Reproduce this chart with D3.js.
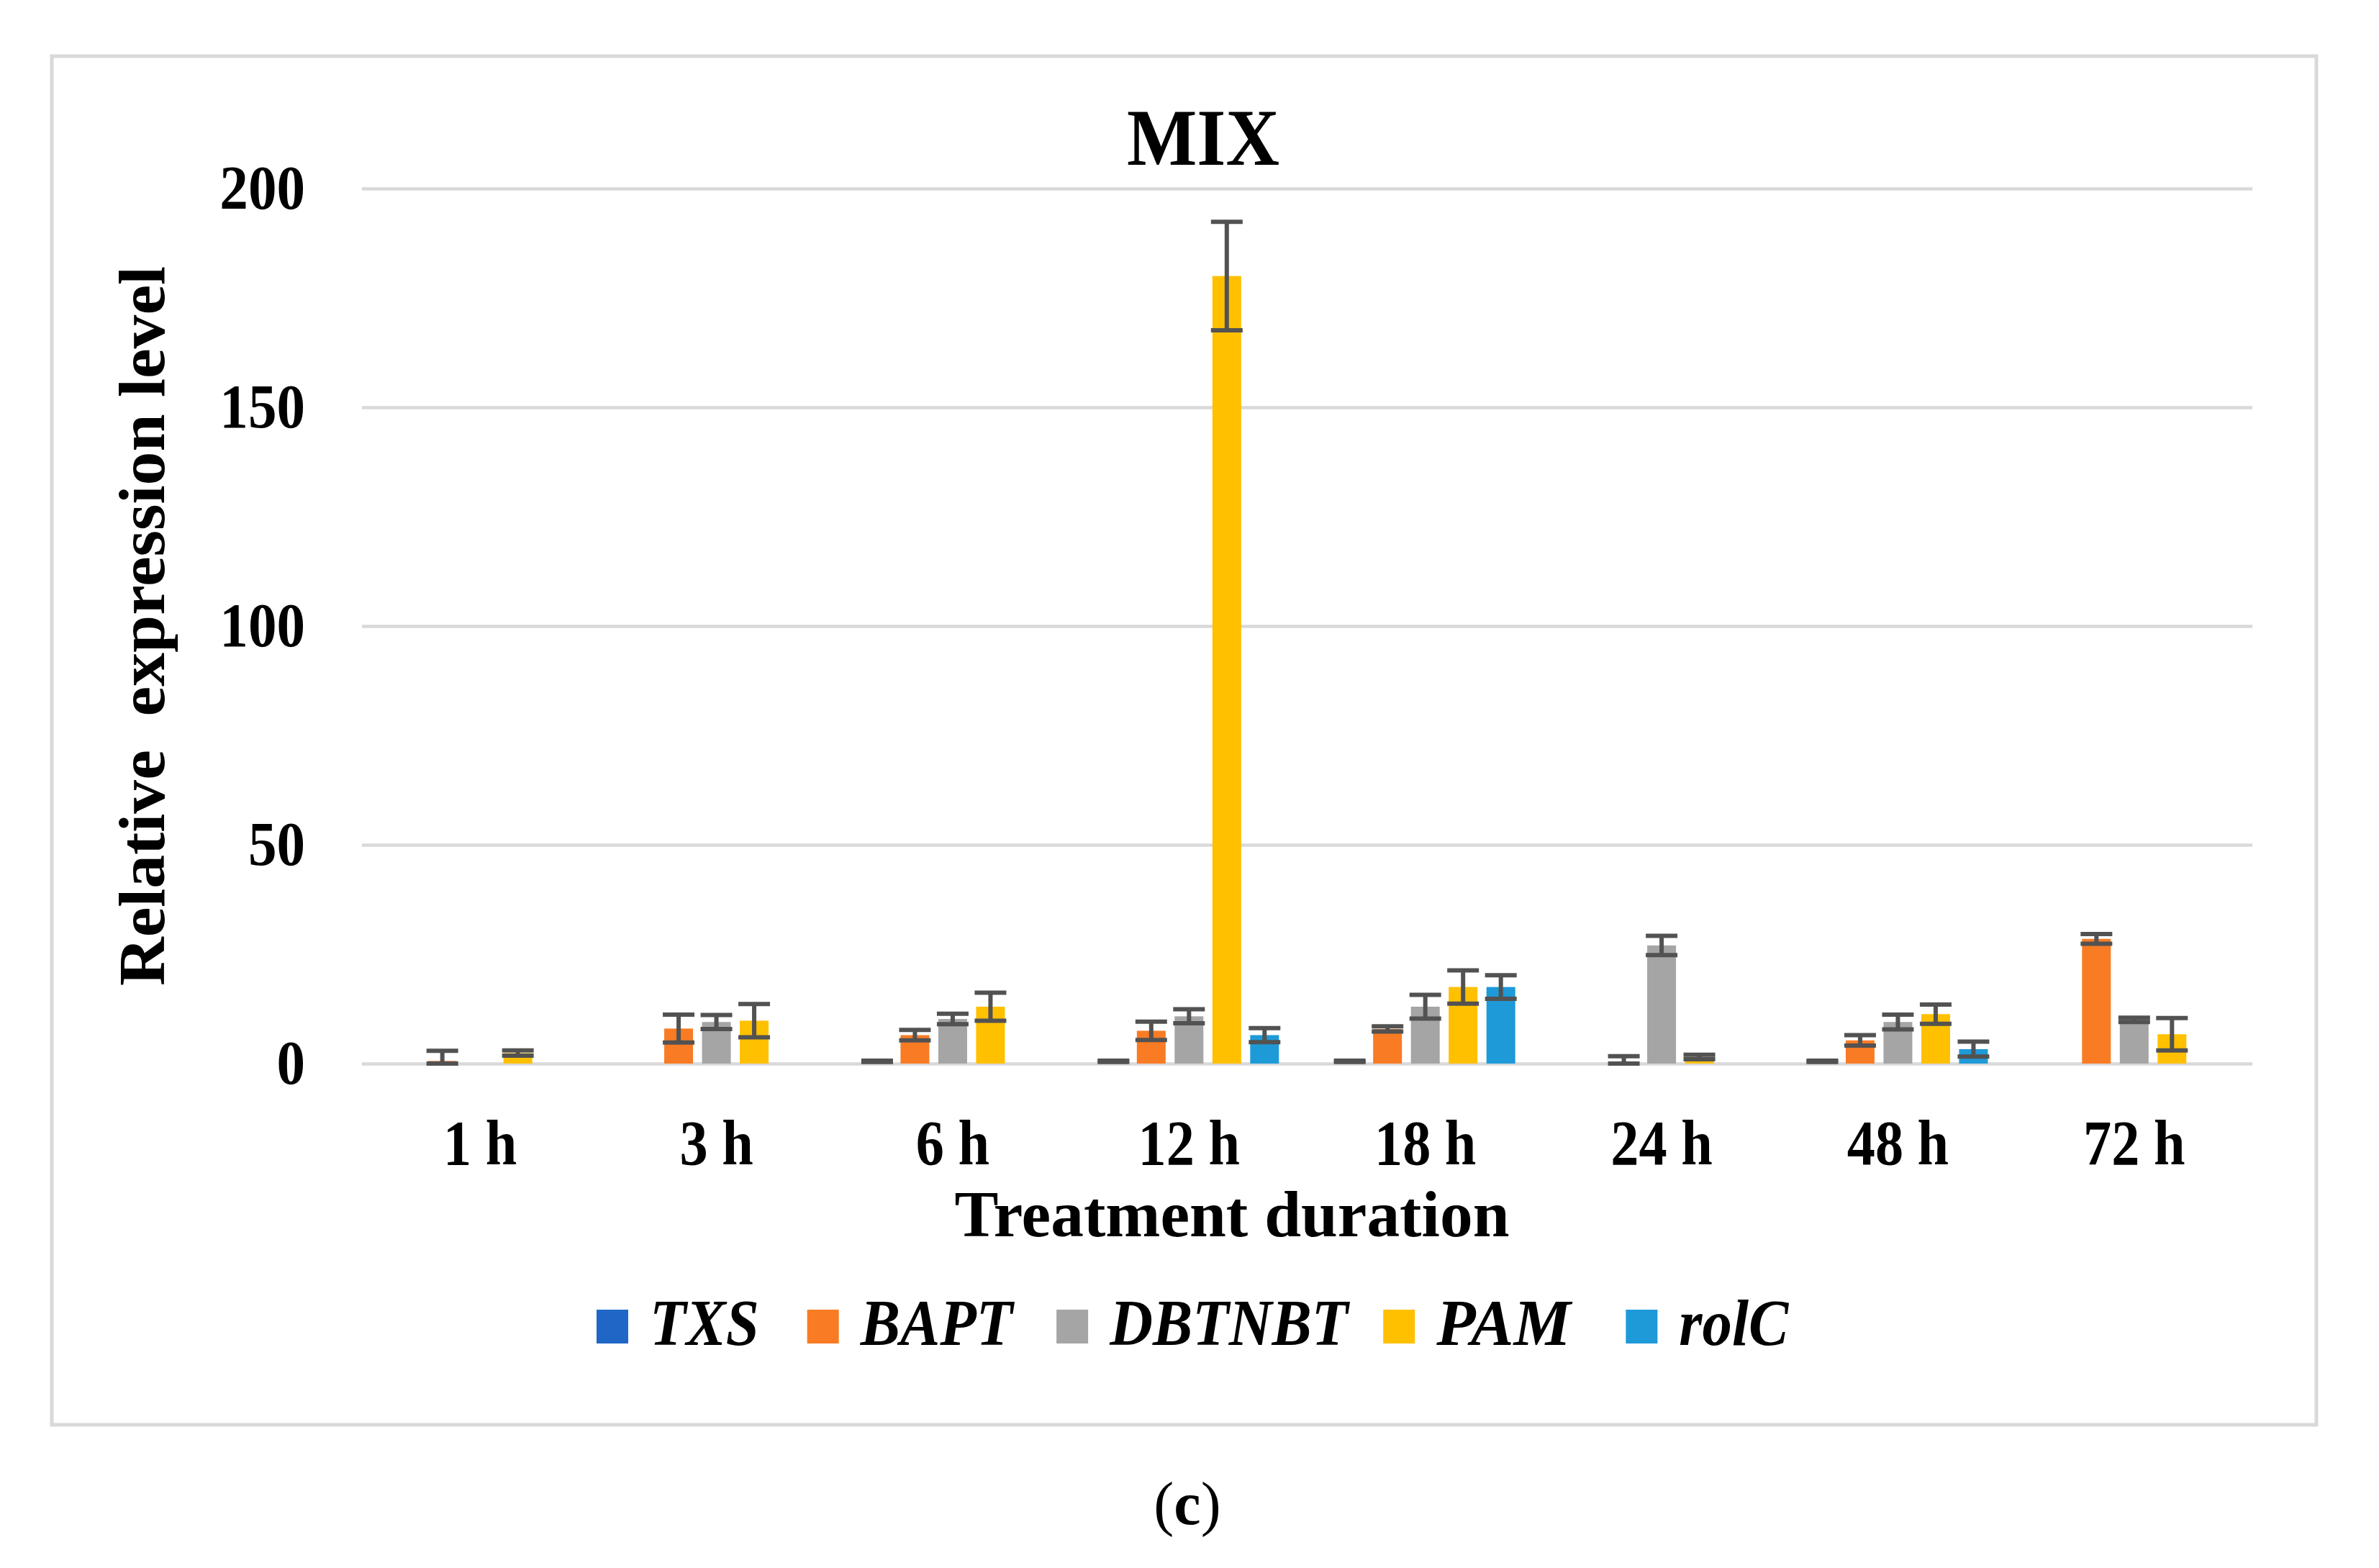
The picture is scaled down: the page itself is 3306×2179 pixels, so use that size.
<!DOCTYPE html>
<html>
<head>
<meta charset="utf-8">
<script src="https://cdn.jsdelivr.net/npm/d3@7"></script>
<style>
  body { margin: 0; background: #fff; }
  text { font-family: "Liberation Serif", "DejaVu Serif", serif; fill: #000; }
</style>
</head>
<body>
<script>
// Chart data
const categories = ["1 h", "3 h", "6 h", "12 h", "18 h", "24 h", "48 h", "72 h"];
const seriesNames = ["TXS", "BAPT", "DBTNBT", "PAM", "rolC"];
const TXS        = [0, 0, 0.5, 0.5, 0.5, 0, 0.5, 0];
const TXS_err    = [0, 0, 0.15, 0.15, 0.15, 0, 0.15, 0];
const BAPT       = [0.6, 8.0, 6.5, 7.5, 7.9, 0.2, 5.3, 28.5];
const BAPT_err   = [2.3, 3.2, 1.2, 2.1, 0.6, 1.5, 1.2, 1.1];
const DBTNBT     = [0, 9.5, 10.2, 10.8, 13.0, 27.0, 9.5, 10.0];
const DBTNBT_err = [0, 1.6, 1.2, 1.6, 2.7, 2.2, 1.7, 0.5];
const PAM        = [2.4, 9.8, 13.0, 180.0, 17.5, 1.5, 11.3, 6.7];
const PAM_err    = [0.6, 3.8, 3.2, 12.4, 3.8, 0.5, 2.2, 3.7];
const rolC       = [0, 0, 0, 6.5, 17.5, 0, 3.3, 0];
const rolC_err   = [0, 0, 0, 1.6, 2.7, 0, 1.7, 0];
const yTicks = [0, 50, 100, 150, 200];

const colors = {
  TXS: "#1f66c6", BAPT: "#f97b24", DBTNBT: "#a5a5a5", PAM: "#ffc000", rolC: "#1e9ad8"
};

const values = { TXS, BAPT, DBTNBT, PAM, rolC };
const errors = { TXS: TXS_err, BAPT: BAPT_err, DBTNBT: DBTNBT_err, PAM: PAM_err, rolC: rolC_err };

const width = 3306, height = 2179;
const plot = { left: 503, right: 3130, top: 262, bottom: 1478 };
const condense = 0.9;

const svg = d3.select("body").append("svg")
  .attr("width", width)
  .attr("height", height);

svg.append("rect").attr("width", width).attr("height", height).attr("fill", "#fff");

// outer chart frame
svg.append("rect")
  .attr("x", 72).attr("y", 78)
  .attr("width", 3147).attr("height", 1902)
  .attr("fill", "#fff")
  .attr("stroke", "#d9d9d9")
  .attr("stroke-width", 5);

// scales
const x0 = d3.scaleBand().domain(categories).range([plot.left, plot.right]);
const x1 = d3.scaleBand().domain(seriesNames).range([0, 250]).paddingInner(0.238);
const y = d3.scaleLinear().domain([0, 200]).range([plot.bottom, plot.top]).clamp(true);

// squeeze a text element horizontally
function squeeze(sel, f) {
  sel.each(function () {
    const w = this.getComputedTextLength();
    d3.select(this).attr("textLength", w * f).attr("lengthAdjust", "spacingAndGlyphs");
  });
}

// y axis with gridlines
const yAxis = svg.append("g")
  .attr("transform", `translate(${plot.left},0)`)
  .call(d3.axisLeft(y).tickValues(yTicks).tickSize(-(plot.right - plot.left)).tickPadding(79));
yAxis.select(".domain").remove();
yAxis.selectAll(".tick line").attr("stroke", "#d9d9d9").attr("stroke-width", 4.5);
yAxis.selectAll(".tick text")
  .attr("font-family", "Liberation Serif")
  .attr("font-size", 86)
  .attr("font-weight", "bold")
  .attr("fill", "#000")
  .call(squeeze, 0.92);

// x axis labels
const xAxis = svg.append("g")
  .attr("transform", `translate(0,${plot.bottom})`)
  .call(d3.axisBottom(x0).tickSize(0));
xAxis.select(".domain").remove();
xAxis.selectAll(".tick text")
  .attr("y", 140).attr("dy", 0)
  .attr("font-family", "Liberation Serif")
  .attr("font-size", 88)
  .attr("font-weight", "bold")
  .attr("fill", "#000")
  .call(squeeze, 0.89);

// bars
const groups = svg.append("g").selectAll("g")
  .data(categories)
  .join("g")
  .attr("transform", d => `translate(${x0(d) + x0.bandwidth() / 2 - 125},0)`);

const cells = groups.selectAll("g")
  .data((c, i) => seriesNames.map(s => ({ s, v: values[s][i], e: errors[s][i] })).filter(d => d.v > 0))
  .join("g");

cells.append("rect")
  .attr("x", d => x1(d.s))
  .attr("y", d => y(d.v))
  .attr("width", x1.bandwidth())
  .attr("height", d => y(0) - y(d.v))
  .attr("fill", d => colors[d.s]);

// error bars
const capW = 44;
const err = cells.append("g")
  .attr("stroke", "#525252")
  .attr("stroke-width", 6);
err.append("line")
  .attr("x1", d => x1(d.s) + x1.bandwidth() / 2)
  .attr("x2", d => x1(d.s) + x1.bandwidth() / 2)
  .attr("y1", d => y(d.v - d.e))
  .attr("y2", d => y(d.v + d.e));
err.append("line")
  .attr("x1", d => x1(d.s) + x1.bandwidth() / 2 - capW / 2)
  .attr("x2", d => x1(d.s) + x1.bandwidth() / 2 + capW / 2)
  .attr("y1", d => y(d.v + d.e))
  .attr("y2", d => y(d.v + d.e));
err.append("line")
  .attr("x1", d => x1(d.s) + x1.bandwidth() / 2 - capW / 2)
  .attr("x2", d => x1(d.s) + x1.bandwidth() / 2 + capW / 2)
  .attr("y1", d => y(d.v - d.e))
  .attr("y2", d => y(d.v - d.e));

// title
svg.append("text")
  .attr("x", 1672).attr("y", 229)
  .attr("text-anchor", "middle")
  .attr("font-size", 112)
  .attr("font-weight", "bold")
  .attr("textLength", 212).attr("lengthAdjust", "spacingAndGlyphs")
  .text("MIX");

// y axis title
svg.append("text")
  .attr("transform", "translate(228,870) rotate(-90)")
  .attr("text-anchor", "middle")
  .attr("font-size", 90)
  .attr("font-weight", "bold")
  .style("white-space", "pre")
  .attr("textLength", 1000).attr("lengthAdjust", "spacingAndGlyphs")
  .text("Relative  expression level");

// x axis title
svg.append("text")
  .attr("x", 1712).attr("y", 1718)
  .attr("text-anchor", "middle")
  .attr("font-size", 92)
  .attr("font-weight", "bold")
  .attr("textLength", 771).attr("lengthAdjust", "spacingAndGlyphs")
  .text("Treatment duration");

// legend
const legend = svg.append("g").attr("transform", "translate(829,0)");
let cursor = 0;
seriesNames.forEach(name => {
  const f = name === "PAM" ? 0.97 : condense;
  const item = legend.append("g").attr("transform", `translate(${cursor},0)`);
  item.append("rect")
    .attr("x", 0).attr("y", 1820)
    .attr("width", 44).attr("height", 47)
    .attr("fill", colors[name]);
  const t = item.append("text")
    .attr("x", 74).attr("y", 1869)
    .attr("font-size", 92)
    .attr("font-weight", "bold")
    .attr("font-style", "italic")
    .text(name)
    .call(squeeze, f);
  cursor += 74 + t.node().getComputedTextLength() * f + 82;
});

// panel label
const lab = svg.append("text")
  .attr("x", 1650).attr("y", 2118)
  .attr("text-anchor", "middle")
  .attr("font-size", 84);
lab.append("tspan").text("(");
lab.append("tspan").attr("font-weight", "bold").text("c");
lab.append("tspan").text(")");
</script>
</body>
</html>
